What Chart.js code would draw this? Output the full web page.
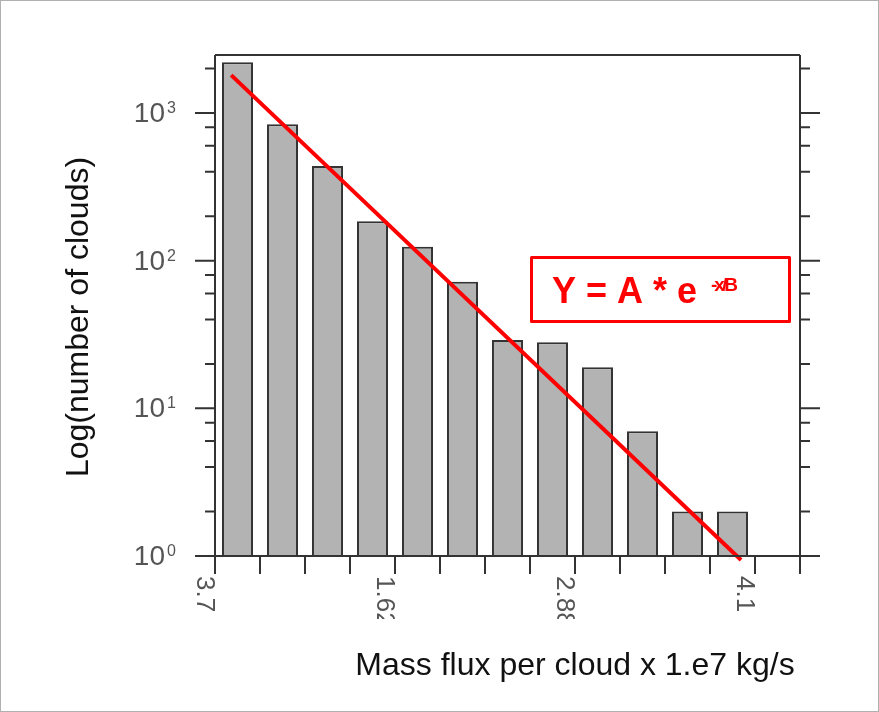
<!DOCTYPE html>
<html>
<head>
<meta charset="utf-8">
<script src="https://cdn.jsdelivr.net/npm/chart.js@4"></script>
<style>
    body { margin: 0; background: #fff; }
    canvas { display: block; }
</style>
</head>
<body>
<canvas id="chartCanvas" width="879" height="712"></canvas>
<script>
// bin centres on the x axis (axis runs 0..13, one unit per bin)
const binCenters = [0.5, 1.5, 2.5, 3.5, 4.5, 5.5, 6.5, 7.5, 8.5, 9.5, 10.5, 11.5];
const cloudCounts = [2210, 840, 437, 185, 124, 72, 29, 28, 19, 7, 2, 2];

// fitted exponential, drawn as a straight line on the log axis
const fitX = [0.36, 11.69];
const fitY = [1806, 0.94];

const xTicks = [0, 1, 2, 3, 4, 5, 6, 7, 8, 9, 10, 11, 12, 13];
const xTickLabels = ['3.7', '1.62', '2.88', '4.1'];
const xTickLabelAt = [0, 4, 8, 12];

const yMajor = [1, 10, 100, 1000];
const yMajorExp = ['0', '1', '2', '3'];
const yMinor = [2, 4, 6, 8, 20, 40, 60, 80, 200, 400, 600, 800, 2000];

const xTitle = 'Mass flux per cloud x 1.e7 kg/s';
const yTitle = 'Log(number of clouds)';

const frameColor = '#333333';

const axesPlugin = {
    id: 'axesPlugin',
    afterDraw(c) {
        const ctx = c.ctx;
        const xs = c.scales.x;
        const ys = c.scales.y;
        const a = c.chartArea;
        const yBase = ys.getPixelForValue(1);

        ctx.save();
        // outer border of the picture
        ctx.strokeStyle = '#b0b0b0';
        ctx.lineWidth = 1;
        ctx.strokeRect(0.5, 0.5, c.width - 1, c.height - 1);

        ctx.strokeStyle = frameColor;
        ctx.lineWidth = 2;
        ctx.lineCap = 'butt';
        ctx.beginPath();
        ctx.moveTo(a.left, a.top);
        ctx.lineTo(a.right, a.top);
        ctx.moveTo(a.left, a.top);
        ctx.lineTo(a.left, yBase);
        ctx.moveTo(a.right, a.top);
        ctx.lineTo(a.right, yBase);
        ctx.moveTo(a.left - 20, yBase);
        ctx.lineTo(a.right + 20, yBase);

        // x ticks
        xTicks.forEach(v => {
            const px = xs.getPixelForValue(v);
            ctx.moveTo(px, yBase);
            ctx.lineTo(px, yBase + 18);
        });
        // y ticks on both sides
        yMajor.forEach(v => {
            const py = ys.getPixelForValue(v);
            ctx.moveTo(a.left - 20, py);
            ctx.lineTo(a.left, py);
            ctx.moveTo(a.right, py);
            ctx.lineTo(a.right + 20, py);
        });
        yMinor.forEach(v => {
            const py = ys.getPixelForValue(v);
            ctx.moveTo(a.left - 10, py);
            ctx.lineTo(a.left, py);
            ctx.moveTo(a.right, py);
            ctx.lineTo(a.right + 10, py);
        });
        ctx.stroke();

        // y tick labels, 10 with exponent
        ctx.fillStyle = '#555';
        yMajor.forEach((v, i) => {
            const py = ys.getPixelForValue(v);
            const base = py + 9;
            ctx.font = '28px "Liberation Sans", Arial, sans-serif';
            ctx.textAlign = 'right';
            ctx.textBaseline = 'alphabetic';
            ctx.fillText('10', a.left - 50, base);
            ctx.font = '16px "Liberation Sans", Arial, sans-serif';
            ctx.textAlign = 'left';
            ctx.fillText(yMajorExp[i], a.left - 48, base - 9);
        });

        // x tick labels, turned clockwise and cut off at the bottom
        ctx.save();
        ctx.beginPath();
        ctx.rect(0, 0, c.width, 619);
        ctx.clip();
        ctx.font = '26px "Liberation Sans", Arial, sans-serif';
        ctx.textAlign = 'left';
        ctx.textBaseline = 'top';
        xTickLabels.forEach((t, i) => {
            const px = xs.getPixelForValue(xTickLabelAt[i]);
            ctx.save();
            ctx.translate(px + 2, 576);
            ctx.rotate(Math.PI / 2);
            ctx.fillText(t, 0, 0);
            ctx.restore();
        });
        ctx.restore();

        // axis titles
        ctx.fillStyle = '#111';
        ctx.font = '32px "Liberation Sans", Arial, sans-serif';
        ctx.textAlign = 'center';
        ctx.textBaseline = 'alphabetic';
        ctx.fillText(xTitle, 575, 675);
        ctx.save();
        ctx.translate(79, 317);
        ctx.rotate(-Math.PI / 2);
        ctx.textBaseline = 'middle';
        ctx.fillText(yTitle, 0, 0);
        ctx.restore();

        // formula box
        ctx.strokeStyle = '#ff0000';
        ctx.lineWidth = 3;
        ctx.lineJoin = 'round';
        ctx.strokeRect(531.5, 257.5, 258, 64);
        ctx.fillStyle = '#ff0000';
        ctx.font = 'bold 36px "Liberation Sans", Arial, sans-serif';
        ctx.textAlign = 'left';
        ctx.fillText('Y = A * e', 552, 303);
        ctx.font = 'bold 19px "Liberation Sans", Arial, sans-serif';
        ctx.letterSpacing = '-3px';
        ctx.fillText('-x/B', 711, 291);
        ctx.restore();
    }
};

const ctx = document.getElementById('chartCanvas').getContext('2d');

new Chart(ctx, {
    type: 'bar',
    data: {
        datasets: [
            {
                type: 'line',
                label: 'fit',
                data: fitX.map((x, i) => ({ x: x, y: fitY[i] })),
                borderColor: '#ff0000',
                borderWidth: 4,
                pointRadius: 0,
                fill: false,
                clip: false,
                order: 0
            },
            {
                label: 'clouds',
                data: binCenters.map((x, i) => ({ x: x, y: cloudCounts[i] })),
                backgroundColor: '#b3b3b3',
                borderColor: '#333333',
                borderWidth: 2,
                barPercentage: 0.69,
                categoryPercentage: 1.0,
                order: 1
            }
        ]
    },
    options: {
        responsive: false,
        animation: false,
        devicePixelRatio: 1,
        layout: { padding: { left: 215, top: 55, right: 79, bottom: 156 } },
        plugins: {
            legend: { display: false },
            tooltip: { enabled: false }
        },
        scales: {
            x: { type: 'linear', min: 0, max: 13, offset: false, display: false },
            y: { type: 'logarithmic', min: 1, max: 2470, display: false }
        }
    },
    plugins: [axesPlugin]
});
</script>
</body>
</html>
